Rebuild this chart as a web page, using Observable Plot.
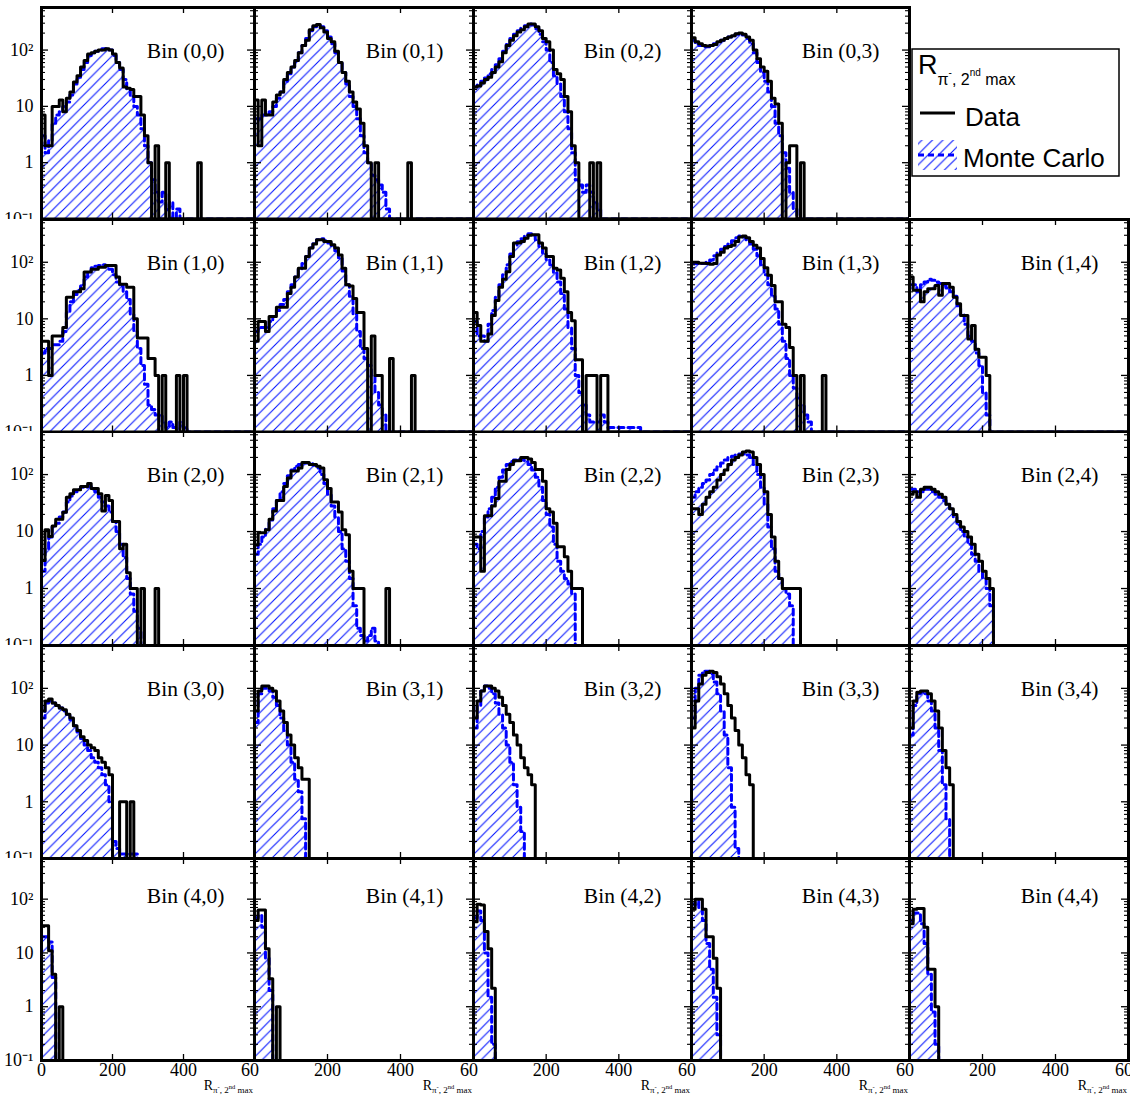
<!DOCTYPE html>
<html><head><meta charset="utf-8">
<script src="https://cdn.jsdelivr.net/npm/d3@7"></script>
<script src="https://cdn.jsdelivr.net/npm/@observablehq/plot@0.6"></script>
<style>
body{margin:0;background:#fff;}
#chart{position:relative;width:1141px;height:1099px;overflow:hidden;background:#fff;}
#chart svg{position:absolute;}
</style></head><body><div id="chart"></div>
<script>
// ---- histogram contents (bin width 10, bins start at 0); trailing empty bins omitted ----
const data00 = [7,2,2,10,10,13,8,14,18,27,35,50,65,85,90,95,100,100,105,100,85,60,48,22,21,20,15,15,7,3,1,0,2,0,0,1,0,0,0,0,0,0,0,0,1];
const mc00   = [3,1.5,2.5,5,7,8,10,12,16,25,33,45,60,80,90,95,100,105,105,100,80,60,45,30,20,15,10,7,4,2,1,0.5,0.3,0.2,0.3,0.15,0.2,0.1,0.15];
const data01 = [13,2,13,7,7,12,16,18,30,40,50,65,90,120,150,230,270,285,250,210,160,140,95,60,40,28,18,12,9,5,2,1,0,1,0,0,0,0,0,0,0,0,1];
const mc01   = [6,6,7,7,8,10,14,18,28,38,50,65,90,120,160,220,260,280,260,220,170,130,90,60,40,25,15,10,6,3,1.5,1,0.6,0.5,0.4,0.3,0.15];
const data02 = [22,23,26,30,33,40,50,62,90,120,150,180,210,230,260,290,290,260,220,160,140,100,45,38,30,15,8,2,1,0,0,0,1,0,1];
const mc02   = [22,24,28,32,38,45,55,70,95,125,160,190,220,245,270,290,280,240,190,140,100,60,35,25,15,8,4,1.5,0.5,0.4,0.3,0.4,0.3,0.2,0.15];
const data03 = [165,140,130,120,118,120,125,140,150,160,170,180,195,200,190,170,150,100,70,50,42,28,14,11,5,0,1,2,2,0,1];
const mc03   = [150,130,120,115,115,120,130,140,150,160,170,180,190,195,185,160,130,90,60,40,28,18,10,5,3,1.5,0.8,0.3,0.15];

const data10 = [4,4,1,5,5,5,7,24,24,30,30,34,67,67,75,75,82,82,88,88,88,55,41,41,36,36,10,4.6,4.6,4.6,2,2,1,0,1,0,0,0,1,0,1];
const mc10   = [2.5,3,3,3.5,3.5,4,6,13,20,27,32,40,55,68,80,85,88,90,85,75,60,45,38,30,22,12,6,3,1.5,0.7,0.3,0.25,0.2,0.2,0.15,0.12,0.15,0.12,0.12,0.15,0.12];
const data11 = [4,9,9,6,11,11,16,16,16,28,36,55,78,78,126,178,210,250,250,233,233,203,178,135,78,40,38,23,13,13,3,0,5,1,1,0,0,2,0,0,0,0,0,1];
const mc11   = [6,7,7,7,9,11,14,18,22,30,40,55,75,95,130,180,220,250,260,240,220,190,160,120,70,40,25,12,6,3,2,1.5,1,0.5,0.3,0.2];
const data12 = [13,7.6,4,4,5.4,11.5,21,36,50,68,126,218,218,233,265,300,305,305,218,178,126,126,78,73,52,30,13,9.3,1.9,1.9,0,1,1,1,0,1,1];
const mc12   = [9,5,5,4,8,14,24,40,60,90,140,200,230,260,300,320,300,250,190,140,110,90,65,45,28,15,7,3,1,0.5,0.3,0.2,0.15,0.15,0.15,0.2,0.15,0.12,0.12,0.12,0.12,0.12,0.12,0.12,0.12,0.12];
const data13 = [100,100,96,96,95,92,95,135,150,178,190,200,233,280,290,270,233,200,178,117,80,59,39,20,20,8,7,3.1,1,0,1,0,0,0,0,0,1];
const mc13   = [95,95,95,95,100,110,130,150,170,190,210,240,270,290,280,250,210,170,130,90,60,40,25,15,8,4,2,1,0.6,0.4,0.3,0.2,0.15];
const data14 = [55,32,32,20,30,34,34,39,26,42,42,36,24,18.5,11.5,11.5,4.4,7.6,2.9,2.1,2.1,1];
const mc14   = [40,40,30,40,45,50,48,45,42,40,35,30,25,17,12,8,5,4,2.5,1.5,0.5,0.2];

const data20 = [3.1,10.8,8.2,12.5,16.5,16.5,21.8,40,46,54,54,62,62,70,57,57,46,23,43,35,15,15,5,6,1.9,1,1,0,1,0,0,0,1];
const mc20   = [2,5,8,12,14,18,22,33,42,50,55,60,60,62,55,50,40,33,28,22,15,10,6,3.5,1.5,0.8,0.4,0.2,0.1];
const data21 = [5.8,9.5,9.5,10.8,16.5,23,35,35,62,87,115,115,131,163,163,150,150,140,130,81,57,33,33,22,10.8,8.8,2,1,1,1,0,0,0,0,0,0,1];
const mc21   = [4,6,8,11,16,25,35,50,70,95,120,140,150,160,160,155,145,130,100,70,45,28,18,10,5,3,1.5,0.5,0.2,0.15,0.12,0.15,0.2,0.12];
const data22 = [8,8,2,19,19,28,38,76,76,123,150,175,175,200,200,187,163,123,123,76,25,22,14,5.4,5.4,3.6,2,1,1,1];
const mc22   = [6,5,10,18,25,40,60,90,120,150,170,180,185,180,170,150,120,90,60,35,20,12,6,3,2,1.5,1.2,0.8];
const data23 = [25,25,20,30,40,50,60,80,100,120,150,180,200,220,250,260,250,200,150,100,50,20,8,3,1.5,1,1,1,1,1];
const mc23   = [40,50,60,70,80,100,120,140,160,180,200,210,220,230,230,220,200,150,100,60,30,12,5,2,1.5,1,0.8,0.5];
const data24 = [45,50,40,55,60,60,55,50,45,40,30,25,20,15,12,10,8,6,4,3,2,1.5,1];
const mc24   = [55,55,50,50,55,55,50,45,40,35,30,25,18,13,10,8,6,4,3,2,1.5,1,0.5];

const data30 = [40,60,65,55,50,45,42,35,30,22,18,14,12,10,9,8,6,5,4,3,0,0,1,1,0,1];
const mc30   = [30,55,60,55,50,45,40,35,28,22,17,13,10,8,6,5,4,3,2,1,0.2,0.15,0.12,0.12,0.12,0.12,0.12];
const data31 = [40,90,110,110,100,90,60,40,25,15,10,6,4,2.5,2.5];
const mc31   = [25,80,100,100,90,70,50,30,18,10,5,2.5,1.5,0.5];
const data32 = [30,60,90,110,110,100,90,70,50,35,25,15,10,6,4,3,2];
const mc32   = [20,50,90,110,100,80,55,35,20,10,5,2,0.8,0.3];
const data33 = [20,60,120,170,190,200,190,160,120,80,50,30,18,10,6,3,2];
const mc33   = [30,100,170,200,200,180,130,80,40,15,4,0.8,0.15];
const data34 = [20,60,85,90,90,80,60,40,20,8,4,2];
const mc34   = [15,50,80,85,80,60,40,20,8,2,0.5];

const data40 = [32,32,11,4,0,1];
const mc40   = [20,20,16,3.5];
const data41 = [40,63,63,12,3.3,0,1];
const mc41   = [45,50,30,8,2];
const data42 = [38,80,78,25,12,2.2];
const mc42   = [45,60,40,10,1.5,0.2];
const data43 = [65,100,100,65,20,20,8,2.2];
const mc43   = [80,90,70,40,15,5,1.5,0.3];
const data44 = [35,65,67,67,30,5,5,1];
const mc44   = [40,55,55,35,15,4,0.8,0.2];

const xTicks = [0, 200, 400, 600];
const yTicks = [0.1, 1, 10, 100];
const binWidth = 10;
const nBins = 60;

// ---- layout ----
const colLeft  = [41, 254, 473, 691, 909];
const colRight = [254, 473, 691, 909, 1128];
const rowTop    = [7, 218.5, 431, 645, 858];
const rowBottom = [218.5, 431, 645, 858, 1060];
const yMin = 0.1, yMax = 570;

const panels = [
  [0,0,data00,mc00],[0,1,data01,mc01],[0,2,data02,mc02],[0,3,data03,mc03],
  [1,0,data10,mc10],[1,1,data11,mc11],[1,2,data12,mc12],[1,3,data13,mc13],[1,4,data14,mc14],
  [2,0,data20,mc20],[2,1,data21,mc21],[2,2,data22,mc22],[2,3,data23,mc23],[2,4,data24,mc24],
  [3,0,data30,mc30],[3,1,data31,mc31],[3,2,data32,mc32],[3,3,data33,mc33],[3,4,data34,mc34],
  [4,0,data40,mc40],[4,1,data41,mc41],[4,2,data42,mc42],[4,3,data43,mc43],[4,4,data44,mc44]
];

const yFmt = d => d === 0.1 ? "10\u207B\u00B9" : d === 100 ? "10\u00B2" : String(d);
const minorY = [];
for (const dec of [0.1, 1, 10, 100]) for (let k = 2; k <= 9; k++) if (dec * k <= yMax) minorY.push(+(dec * k).toPrecision(3));

function toPoints(arr) {
  const pts = [];
  for (let i = 0; i < nBins; i++) {
    const v = arr[i] || 0;
    pts.push({x: i * binWidth, v: v > yMin ? v : yMin});
  }
  pts.push({x: nBins * binWidth, v: pts[nBins - 1].v});
  return pts;
}

const chart = document.getElementById("chart");

// hatch pattern + legend
const leg = d3.select(chart).append("svg")
  .attr("width", 212).attr("height", 132)
  .style("left", "910px").style("top", "47px");
const pat = leg.append("defs").append("pattern")
  .attr("id", "hatch").attr("patternUnits", "userSpaceOnUse")
  .attr("width", 10.5).attr("height", 10.5);
pat.append("path").attr("d", "M0,10.5 L10.5,0 M-1,1 L1,-1 M9.5,11.5 L11.5,9.5")
  .attr("stroke", "#0010ff").attr("stroke-width", 1.05);

for (const [r, c, dArr, mArr] of panels) {
  const W = colRight[c] - colLeft[c];
  const H = rowBottom[r] - rowTop[r];
  const ml = c === 0 ? 41 : 0;
  const mr = 2;
  const mt = r === 0 ? 7 : (r === 1 && c === 4 ? 2 : 0);
  const mb = r === 4 ? 1099 - 1060 : 2;
  const decPx = H / Math.log10(yMax / yMin);
  const dx = px => px * 600 / W;
  const upFromBottom = px => yMin * Math.pow(10, px / decPx);
  const downFromTop = px => yMax / Math.pow(10, px / decPx);
  const dPts = toPoints(dArr);
  const mPts = toPoints(mArr);

  const svg = Plot.plot({
    width: W + ml + mr, height: H + mt + mb,
    marginLeft: ml, marginRight: mr, marginTop: mt, marginBottom: mb,
    style: {background: "white", overflow: "hidden", fontFamily: "'Liberation Serif', serif", fontSize: "18px", color: "black"},
    x: {domain: [0, 600], axis: r === 4 ? "bottom" : null, ticks: xTicks, tickSize: 0, tickPadding: 3, label: null},
    y: {type: "log", domain: [yMin, yMax], axis: c === 0 ? "left" : null, ticks: yTicks, tickFormat: yFmt, tickSize: 0, tickPadding: 8, label: null},
    marks: [
      Plot.area(mPts, {x1: "x", y1: () => yMin, y2: "v", curve: "step-after", fill: "url(#hatch)"}),
      Plot.line(mPts, {x: "x", y: "v", curve: "step-after", stroke: "#0000ff", strokeWidth: 3, strokeDasharray: "6,4"}),
      Plot.line(dPts, {x: "x", y: "v", curve: "step-after", stroke: "black", strokeWidth: 3}),
      Plot.ruleY(yTicks, {y: d => d, x1: () => 0, x2: () => dx(7), stroke: "black", strokeWidth: 1.3}),
      Plot.ruleY(minorY, {y: d => d, x1: () => 0, x2: () => dx(4), stroke: "black", strokeWidth: 1.1}),
      Plot.ruleY(yTicks, {y: d => d, x1: () => 600 - dx(7), x2: () => 600, stroke: "black", strokeWidth: 1.3}),
      Plot.ruleY(minorY, {y: d => d, x1: () => 600 - dx(4), x2: () => 600, stroke: "black", strokeWidth: 1.1}),
      Plot.ruleX([200, 400], {x: d => d, y1: () => yMin, y2: () => upFromBottom(6), stroke: "black", strokeWidth: 1.3}),
      Plot.ruleX([200, 400], {x: d => d, y1: () => downFromTop(6), y2: () => yMax, stroke: "black", strokeWidth: 1.3}),
      Plot.frame({stroke: "black", strokeWidth: 3}),
      Plot.text([`Bin (${r},${c})`], {text: d => d, frameAnchor: "top-right", lineAnchor: "top", textAnchor: "end",
        dx: -30, dy: r === 4 ? 29 : 35, fontSize: 21.5, fontFamily: "'Liberation Serif', serif", fill: "black"})
    ]
  });
  svg.style.left = (colLeft[c] - ml) + "px";
  svg.style.top = (rowTop[r] - mt) + "px";
  chart.appendChild(svg);

  if (r === 4) {
    const t = d3.select(svg).append("text")
      .attr("x", ml + W - 1).attr("y", mt + H + 30)
      .attr("text-anchor", "end").attr("font-family", "'Liberation Serif', serif").attr("fill", "black");
    t.append("tspan").attr("font-size", 14).text("R");
    t.append("tspan").attr("font-size", 9).attr("dy", 3).text("\u03C0");
    t.append("tspan").attr("font-size", 6.5).attr("dy", -4.5).text("-");
    t.append("tspan").attr("font-size", 9).attr("dy", 4.5).text(", 2");
    t.append("tspan").attr("font-size", 6.5).attr("dy", -4.5).text("nd");
    t.append("tspan").attr("font-size", 9).attr("dy", 4.5).text(" max");
  }
}

// legend (drawn last, on top)
chart.appendChild(leg.node());
leg.append("rect").attr("x", 2).attr("y", 2).attr("width", 207).attr("height", 127)
  .attr("fill", "white").attr("stroke", "black").attr("stroke-width", 1.5);
const lt = leg.append("text").attr("x", 8).attr("y", 27).attr("font-family", "'Liberation Sans', Arial, sans-serif").attr("fill", "black");
lt.append("tspan").attr("font-size", 27).text("R");
lt.append("tspan").attr("font-size", 16).attr("dy", 11).text("\u03C0");
lt.append("tspan").attr("font-size", 10).attr("dy", -9).text("-");
lt.append("tspan").attr("font-size", 16).attr("dy", 9).text(", 2");
lt.append("tspan").attr("font-size", 10).attr("dy", -9).text("nd");
lt.append("tspan").attr("font-size", 16).attr("dy", 9).text(" max");
leg.append("line").attr("x1", 10).attr("x2", 45).attr("y1", 66).attr("y2", 66).attr("stroke", "black").attr("stroke-width", 3);
leg.append("text").attr("x", 55).attr("y", 79).attr("font-size", 26).attr("font-family", "'Liberation Sans', Arial, sans-serif").text("Data");
leg.append("rect").attr("x", 8).attr("y", 93).attr("width", 39).attr("height", 30).attr("fill", "url(#hatch)");
leg.append("line").attr("x1", 8).attr("x2", 47).attr("y1", 108).attr("y2", 108).attr("stroke", "#0000ff").attr("stroke-width", 3).attr("stroke-dasharray", "6,4");
leg.append("text").attr("x", 53).attr("y", 120).attr("font-size", 26).attr("font-family", "'Liberation Sans', Arial, sans-serif").text("Monte Carlo");
</script></body></html>
